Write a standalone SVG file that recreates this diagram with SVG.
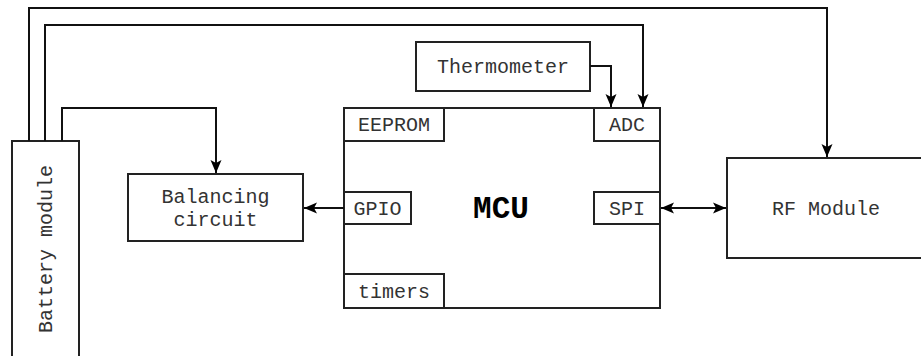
<svg xmlns="http://www.w3.org/2000/svg" width="921" height="356" viewBox="0 0 921 356">
<style>
.box{fill:#fff;stroke:#222;stroke-width:2}
.t{font-family:"Liberation Mono","Courier New",monospace;font-size:20px;fill:#333;text-anchor:middle}
.b{font-family:"Liberation Mono","Courier New",monospace;font-size:31px;font-weight:bold;fill:#000;text-anchor:middle}
.c{fill:none;stroke:#111;stroke-width:2}
</style>
<defs>
<marker id="ah" markerUnits="userSpaceOnUse" viewBox="-14 -7 15 14" refX="0" refY="0" markerWidth="15" markerHeight="14" orient="auto-start-reverse">
<path d="M-13,-5.5 L0,0 L-13,5.5 L-10,0 Z" fill="#000"/>
</marker>
</defs>
<rect width="921" height="356" fill="#fff"/>
<g id="battery">
<rect class="box" x="12" y="141" width="67" height="230"/>
<text class="t" transform="translate(52,249) rotate(-90)">Battery module</text>
</g>
<g id="balancing">
<rect class="box" x="128" y="174" width="175" height="67"/>
<text class="t" x="215.5" y="203">Balancing</text>
<text class="t" x="215.5" y="226">circuit</text>
</g>
<g id="thermometer">
<rect class="box" x="416" y="42" width="174" height="49"/>
<text class="t" x="503" y="73">Thermometer</text>
</g>
<g id="mcu">
<rect class="box" x="344" y="108" width="316" height="200"/>
<text class="b" x="501" y="218">MCU</text>
</g>
<g id="eeprom">
<rect class="box" x="344" y="108" width="100" height="33"/>
<text class="t" x="394" y="131">EEPROM</text>
</g>
<g id="adc">
<rect class="box" x="594" y="108" width="66" height="33"/>
<text class="t" x="627" y="131">ADC</text>
</g>
<g id="gpio">
<rect class="box" x="344" y="192" width="67" height="32"/>
<text class="t" x="377.5" y="214.5">GPIO</text>
</g>
<g id="spi">
<rect class="box" x="594" y="192" width="66" height="32"/>
<text class="t" x="627" y="214.5">SPI</text>
</g>
<g id="timers">
<rect class="box" x="344" y="274" width="100" height="34"/>
<text class="t" x="394" y="297.5">timers</text>
</g>
<g id="rf">
<rect class="box" x="727" y="158" width="200" height="100"/>
<text class="t" x="826" y="214.5">RF Module</text>
</g>
<g id="connectors">
<path class="c" d="M29,141 V8 H827 V157" marker-end="url(#ah)"/>
<path class="c" d="M45,141 V25 H643 V107" marker-end="url(#ah)"/>
<path class="c" d="M62,141 V108 H216 V173" marker-end="url(#ah)"/>
<path class="c" d="M590,66 H611 V107" marker-end="url(#ah)"/>
<path class="c" d="M344,208 H304" marker-end="url(#ah)"/>
<path class="c" d="M661,208 H726" marker-start="url(#ah)" marker-end="url(#ah)"/>
</g>
</svg>
